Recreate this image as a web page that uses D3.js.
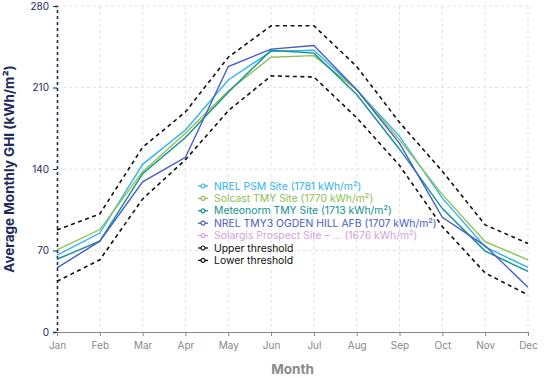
<!DOCTYPE html>
<html><head><meta charset="utf-8">
<script src="https://cdn.jsdelivr.net/npm/d3@7"></script>
<style>body{margin:0;background:#fff;}svg{font-family:Inter,"Noto Sans",sans-serif;}</style>
</head><body><svg id="c" width="545" height="378"></svg>
<script>
const months = ["Jan","Feb","Mar","Apr","May","Jun","Jul","Aug","Sep","Oct","Nov","Dec"];
const yTicks = [0,70,140,210,280];
const nrelPsm   = [66,85,144,173.5,216.5,241,242,208,168,115,73,55.5];
const solcast   = [70.5,88,137.7,170.7,207,236,237.4,208,165,118,77.6,62];
const meteonorm = [62.5,78,136,167,206,242,239.5,204,157,106,69.5,52];
const tmy3      = [55,78,129,150,228,243,246,208,162,98.5,74,38.4];
const solargis  = [];
const upper     = [87.6,101.4,158.7,189,236,263,263,228,180,138,92,76];
const lower     = [43.5,62,114.3,148,190,220,219,184,143,90.5,50.7,31.8];
const seriesNames = ["NREL PSM Site (1781 kWh/m²)","Solcast TMY Site (1770 kWh/m²)","Meteonorm TMY Site (1713 kWh/m²)","NREL TMY3 OGDEN HILL AFB (1707 kWh/m²)","Solargis Prospect Site – ... (1676 kWh/m²)","Upper threshold","Lower threshold"];

const series = [
  {name:seriesNames[0], values:nrelPsm, color:"#2fb3f2", dash:null},
  {name:seriesNames[1], values:solcast, color:"#8cc152", dash:null},
  {name:seriesNames[2], values:meteonorm, color:"#0e9290", dash:null},
  {name:seriesNames[3], values:tmy3, color:"#4a5cc9", dash:null},
  {name:seriesNames[4], values:solargis, color:"#d8a0de", dash:null},
  {name:seriesNames[5], values:upper, color:"#111", dash:"4,3.5"},
  {name:seriesNames[6], values:lower, color:"#111", dash:"4,3.5"}
];

const svg = d3.select("#c");
const L=57, R=528, T=6, B=332;
const x = d3.scalePoint().domain(months).range([L,R]);
const y = d3.scaleLinear().domain([0,280]).range([B,T]);

// grid
const g = svg.append("g");
g.selectAll("line.v").data(months).join("line")
  .attr("x1",d=>x(d)).attr("x2",d=>x(d)).attr("y1",T).attr("y2",B)
  .attr("stroke","#e3e3e3").attr("stroke-dasharray","3,3");
g.selectAll("line.h").data(yTicks.filter(d=>d>0)).join("line")
  .attr("x1",L).attr("x2",R).attr("y1",d=>y(d)).attr("y2",d=>y(d))
  .attr("stroke","#e3e3e3").attr("stroke-dasharray","3,3");

// x axis
const xa = svg.append("g").attr("transform",`translate(0,${B})`).call(d3.axisBottom(x).tickSize(4).tickPadding(6));
xa.select(".domain").attr("stroke","#888").attr("stroke-width",1.2);
xa.selectAll(".tick line").attr("stroke","#888");
xa.selectAll("text").attr("fill","#8a8a8a").attr("font-size",10).attr("font-family","Inter,sans-serif");

// y axis
const ya = svg.append("g").attr("transform",`translate(${L},0)`).call(d3.axisLeft(y).tickValues(yTicks).tickSize(4).tickPadding(4));
ya.select(".domain").attr("stroke","#1c2b5e").attr("stroke-width",1.6).attr("stroke-dasharray","3,3");
ya.selectAll(".tick line").attr("stroke","#1c2b5e");
ya.selectAll("text").attr("fill","#1c2b5e").attr("font-size",10).attr("font-family","Inter,sans-serif");

// lines
const line = d3.line().x((d,i)=>x(months[i])).y(d=>y(d));
series.filter(s=>s.values.length).forEach(s=>{
  svg.append("path").datum(s.values).attr("d",line).attr("fill","none")
    .attr("stroke",s.color).attr("stroke-width",s.dash?1.6:1.4)
    .attr("stroke-dasharray",s.dash);
});

// legend
const lg = svg.append("g").attr("transform","translate(198,186)");
series.forEach((s,i)=>{
  const r = lg.append("g").attr("transform",`translate(0,${i*12.4})`);
  r.append("line").attr("x1",0).attr("x2",10).attr("stroke",s.color).attr("stroke-width",1.3);
  r.append("circle").attr("cx",5).attr("r",2).attr("fill","#fff").attr("stroke",s.color).attr("stroke-width",1.2);
  r.append("text").attr("x",16).attr("dy","0.35em").attr("font-size",10.4).attr("fill",s.color).text(s.name);
});

// titles
svg.append("text").attr("transform",`translate(14,${(T+B)/2}) rotate(-90)`).attr("text-anchor","middle")
  .attr("font-size",13.5).attr("font-weight","bold").attr("fill","#1c2b5e").text("Average Monthly GHI (kWh/m²)");
svg.append("text").attr("x",(L+R)/2).attr("y",374).attr("text-anchor","middle")
  .attr("font-size",13.5).attr("font-weight","bold").attr("fill","#8a8a8a").text("Month");
</script></body></html>
